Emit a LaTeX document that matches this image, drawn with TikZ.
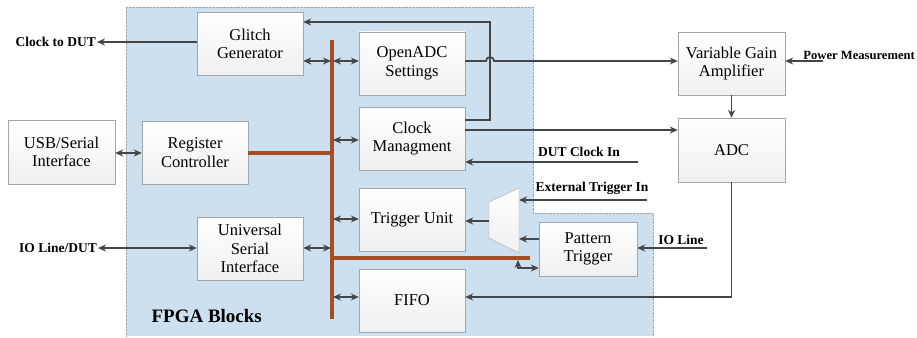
\documentclass[tikz,border=0pt]{standalone}
\usepackage{fontspec}
\setmainfont{Liberation Serif}
\usetikzlibrary{arrows.meta}

\definecolor{fpgablue}{RGB}{204,224,240}
\definecolor{busbrown}{RGB}{164,78,36}
\definecolor{linegray}{RGB}{70,70,70}
\tikzset{
  blk/.style={draw=gray!70, top color=white, bottom color=gray!12, minimum width=106pt,
    minimum height=63pt, align=center, inner sep=2pt, font=\fontsize{16.5}{18.5}\selectfont},
  lbl/.style={font=\bfseries\fontsize{13.5}{15}\selectfont, inner sep=1pt},
  wire/.style={draw=linegray, line width=1.7pt, -{Stealth[length=8pt,width=7pt]}},
  wire2/.style={draw=linegray, line width=1.7pt, {Stealth[length=8pt,width=7pt]}-{Stealth[length=8pt,width=7pt]}},
  bus/.style={draw=busbrown, line width=3.8pt}
}

\begin{document}
\begin{tikzpicture}[x=1pt,y=-1pt]
    \useasboundingbox (0,0) rectangle (917,337);
    % FPGA region
    \fill[fpgablue] (126,7) -- (533,7) -- (533,213) -- (653,213) -- (653,336) -- (126,336) -- cycle;
    \draw[gray!70, densely dotted] (126,336) -- (126,7) -- (533,7) -- (533,213) -- (653,213) -- (653,336);
    \node[font=\bfseries\fontsize{19}{22}\selectfont, anchor=west] (fpga) at (148,316) {FPGA Blocks};

    \node[blk] (glitch) at (250,44) {Glitch\\Generator};
    \node[blk] (openadc) at (412,63.5) {OpenADC\\Settings};
    \node[blk] (clkmgmt) at (412,138.5) {Clock\\Managment};
    \node[blk, minimum width=107pt, minimum height=64pt] (usb) at (61.5,152) {USB/Serial\\Interface};
    \node[blk] (regctl) at (195,152.5) {Register\\Controller};
    \node[blk] (trig) at (412,219.5) {Trigger Unit};
    \node[blk] (usi) at (250,248.5) {Universal\\Serial\\Interface};
    \node[blk] (fifo) at (412,300.5) {FIFO};
    \node[blk, minimum width=98pt, minimum height=54pt] (pattern) at (588,249) {Pattern\\Trigger};
    \node[blk, minimum width=107pt] (vga) at (731.5,63.5) {Variable Gain\\Amplifier};
    \node[blk, minimum width=107pt, minimum height=64pt] (adc) at (731.5,150) {ADC};

    % mux
    \coordinate (muxa) at (489,202);
    \coordinate (muxb) at (519,188);
    \coordinate (muxc) at (519,253);
    \coordinate (muxd) at (489,238);
    \draw[gray!70, top color=white, bottom color=gray!12] (muxa) -- (muxb) -- (muxc) -- (muxd) -- cycle;
    \coordinate (muxout) at (489,221);
    \coordinate (muxext) at (519,200);
    \coordinate (muxpat) at (519,239);

    % outside labels
    \node[lbl, anchor=east] (clkdut) at (97,42) {Clock to DUT};
    \node[lbl, anchor=east] (ioline) at (98,248) {IO Line/DUT};
    \node[lbl] (dutclk) at (579,152) {DUT Clock In};
    \node[lbl] (exttrig) at (592,188) {External Trigger In};
    \node[lbl] (iol) at (681,240) {IO Line};
    \node[lbl, font=\bfseries\fontsize{12.6}{14}\selectfont, anchor=east] (power) at (916,55) {Power Measurement};
    \coordinate (dutin) at (638,162);
    \coordinate (extin) at (647,200);
    \coordinate (ioin) at (707,248);
    \coordinate (powin) at (823,61);

    % bus
    \coordinate (bustop) at (332,40);
    \coordinate (busbot) at (332,319);
    \coordinate (busreg) at (332,153);
    \coordinate (busend) at (530,258);
    \draw[bus] (bustop) -- (busbot);
    \draw[bus] (regctl.east |- busreg) -- (busreg);
    \draw[bus] (busreg |- busend) -- (busend);

    \draw[wire2] (glitch.east |- 0,61) -- (331,61);
    \draw[wire2] (333,61) -- (openadc.west |- 0,61);
    \draw[wire2] (333,140) -- (clkmgmt.west |- 0,140);
    \draw[wire2] (333,219) -- (trig.west |- 0,219);
    \draw[wire2] (usi.east |- 0,248) -- (331,248);
    \draw[wire2] (333,297) -- (fifo.west |- 0,297);
    \draw[wire2] (518,260) |- (pattern.west |- 0,268);
    \draw[wire2] (usb.east |- 0,153) -- (regctl.west |- 0,153);

    \draw[wire] (glitch.west |- clkdut) -- (clkdut.east);
    \draw[wire2] (ioline.east) -- (usi.west |- ioline);
    \draw[wire] (clkmgmt.east |- 0,120) -- (490,120) -- (490,22) -- (glitch.east |- 0,22);
    \draw[wire] (openadc.east |- 0,61) -- (486,61) arc (180:360:4) -- (vga.west |- 0,61);
    \draw[wire] (clkmgmt.east |- 0,130) -- (adc.west |- 0,130);
    \draw[wire] (dutin) -- (clkmgmt.east |- dutin);
    \draw[wire] (powin) -- (vga.east |- powin);
    \draw[wire] (vga.south) -- (adc.north);
    \draw[wire] (adc.south) |- (fifo.east |- 0,297);
    \draw[wire] (extin) -- (muxext);
    \draw[wire] (pattern.west |- muxpat) -- (muxpat);
    \draw[wire] (muxout) -- (trig.east |- muxout);
    \draw[wire] (ioin) -- (pattern.east |- ioin);
\end{tikzpicture}
\end{document}
